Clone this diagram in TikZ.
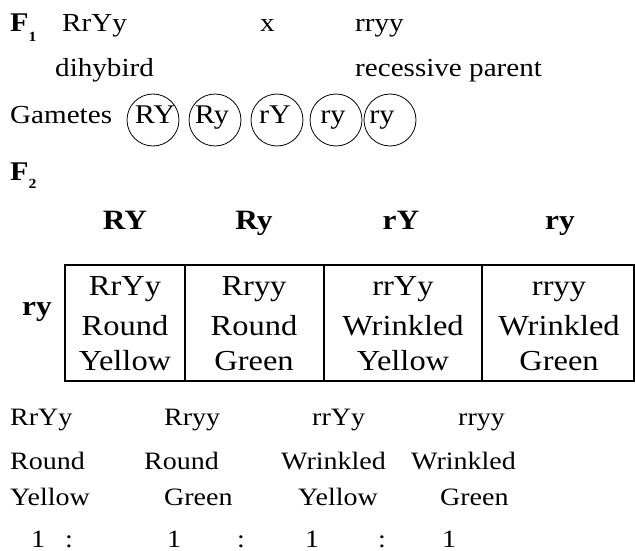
\documentclass[tikz,border=0pt]{standalone}
\usepackage{fontspec}
\setmainfont[FakeStretch=1.12]{Liberation Serif}
\begin{document}
\begin{tikzpicture}[x=1pt,y=-1pt,
  txt/.style={anchor=base west, inner sep=0pt, font=\fontsize{26}{31}\selectfont},
  low/.style={anchor=base west, inner sep=0pt, font=\fontsize{25}{30}\selectfont},
  hdr/.style={anchor=base, inner sep=0pt, font=\bfseries\fontsize{28}{33}\selectfont},
  cell/.style={anchor=base, inner sep=0pt, font=\fontsize{29}{35}\selectfont},
  gamcirc/.style={draw, circle, line width=0.8pt, minimum size=52pt, inner sep=0pt},
  gamtext/.style={anchor=base, inner sep=0pt, font=\fontsize{27}{32}\selectfont},
  grid/.style={line width=1.6pt}]
\useasboundingbox (0,0) rectangle (635,551);
% F1 row
\node[txt, font=\bfseries\fontsize{27}{31}\selectfont] (f1) at (10,32) {F\raisebox{-10pt}{\fontsize{14}{14}\selectfont 1}};
\node[txt] (p1) at (62,32) {RrYy};
\node[txt] (cross) at (260,32) {x};
\node[txt] (p2) at (355,32) {rryy};
\node[txt] (p1lab) at (55,77) {dihybird};
\node[txt] (p2lab) at (355,77) {recessive parent};
% Gametes
\node[txt] (gam) at (10,123) {Gametes};
\node[gamcirc] (c1) at (153,120) {};
\node[gamcirc] (c2) at (215,120) {};
\node[gamcirc] (c3) at (277,120) {};
\node[gamcirc] (c4) at (336,120) {};
\node[gamcirc] (c5) at (390,120) {};
\node[gamtext] (g1) at (155,123) {RY};
\node[gamtext] (g2) at (212,123) {Ry};
\node[gamtext] (g3) at (275,123) {rY};
\node[gamtext] (g4) at (333,123) {ry};
\node[gamtext] (g5) at (382,123) {ry};
% F2
\node[txt, font=\bfseries\fontsize{27}{31}\selectfont] (f2) at (10,180) {F\raisebox{-8pt}{\fontsize{14}{14}\selectfont 2}};
% headers
\node[hdr] (h1) at (125,229) {RY};
\node[hdr] (h2) at (254,229) {Ry};
\node[hdr] (h3) at (401,229) {rY};
\node[hdr] (h4) at (560,229) {ry};
\node[hdr, anchor=base west] (rowlab) at (22,315) {ry};
% table grid
\coordinate (tl) at (65,265);
\coordinate (br) at (634,381);
\draw[grid] (tl) rectangle (br);
\draw[grid] (185,265) -- (185,381);
\draw[grid] (324,265) -- (324,381);
\draw[grid] (482,265) -- (482,381);
% cells
\node[cell] (a1) at (125,295) {RrYy};
\node[cell] (a2) at (125,335) {Round};
\node[cell] (a3) at (125,370) {Yellow};
\node[cell] (b1) at (254,295) {Rryy};
\node[cell] (b2) at (254,335) {Round};
\node[cell] (b3) at (254,370) {Green};
\node[cell] (d1) at (403,295) {rrYy};
\node[cell] (d2) at (403,335) {Wrinkled};
\node[cell] (d3) at (403,370) {Yellow};
\node[cell] (e1) at (559,295) {rryy};
\node[cell] (e2) at (559,335) {Wrinkled};
\node[cell] (e3) at (559,370) {Green};
% results
\node[low] (r11) at (10,425) {RrYy};
\node[low] (r12) at (164,425) {Rryy};
\node[low] (r13) at (312,425) {rrYy};
\node[low] (r14) at (458,425) {rryy};
\node[low] (r21) at (10,469) {Round};
\node[low] (r22) at (144,469) {Round};
\node[low] (r23) at (281,469) {Wrinkled};
\node[low] (r24) at (411,469) {Wrinkled};
\node[low] (r31) at (10,505) {Yellow};
\node[low] (r32) at (164,505) {Green};
\node[low] (r33) at (298,505) {Yellow};
\node[low] (r34) at (440,505) {Green};
\node[low] (n1) at (31,547) {1};
\node[low] (k1) at (65,547) {:};
\node[low] (n2) at (167,547) {1};
\node[low] (k2) at (237,547) {:};
\node[low] (n3) at (305,547) {1};
\node[low] (k3) at (378,547) {:};
\node[low] (n4) at (442,547) {1};
\end{tikzpicture}
\end{document}
